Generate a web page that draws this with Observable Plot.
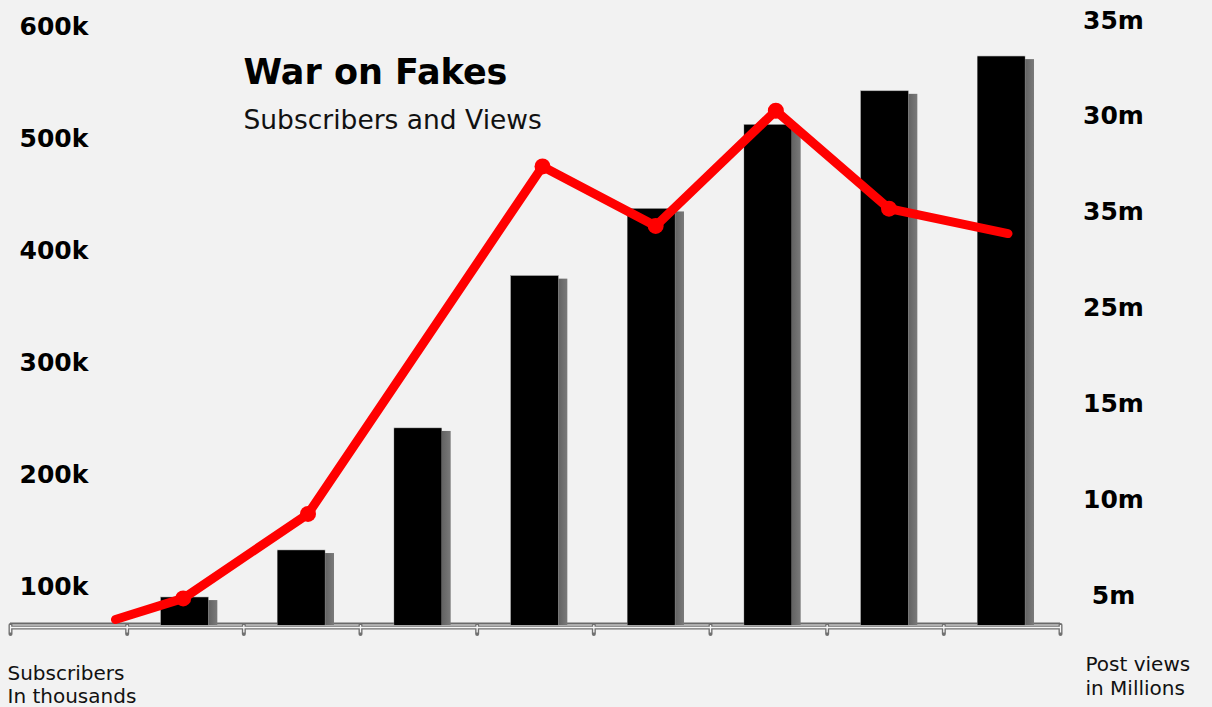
<!DOCTYPE html>
<html><head><meta charset="utf-8">
<script src="https://cdn.jsdelivr.net/npm/d3@7"></script>
<script src="https://cdn.jsdelivr.net/npm/@observablehq/plot@0.6"></script>
<style>
html,body{margin:0;padding:0;background:#f2f2f2;}
#wrap{width:1212px;height:707px;overflow:hidden;}
</style></head><body>
<div id="wrap"></div>
<script>
// Bars: subscribers (thousands), one per slot
const barSlots = [1, 2, 3, 4, 5, 6, 7, 8];
const subscribersK = [91, 133, 242, 378, 438, 513, 543, 574];
// Line: post views (millions)
const lineSlots = [0.9, 1.48, 2.55, 4.56, 5.53, 6.56, 7.53, 8.55];
const viewsM = [3.8, 4.9, 9.3, 27.4, 24.3, 30.3, 25.2, 23.9];
const markerIdx = [1, 2, 3, 4, 5, 6];
// Axis ticks / labels
const leftTicksK = [100, 200, 300, 400, 500, 600];
const leftLabels = ["100k", "200k", "300k", "400k", "500k", "600k"];
const rightTicksM = [5, 10, 15, 20, 25, 30, 35];
const rightLabels = ["5m", "10m", "15m", "25m", "35m", "30m", "35m"];
const slotTicks = [0, 1, 2, 3, 4, 5, 6, 7, 8, 9];

// Secondary axis (millions) expressed in primary units (thousands)
const toK = m => 6.25 + 17.143 * m;
const yBase = 66.07;

const bars = barSlots.map((s, i) => ({slot: s, k: subscribersK[i]}));
const pts = lineSlots.map((s, i) => ({slot: s, m: viewsM[i]}));
const markers = pts.filter((d, i) => markerIdx.includes(i));

const defs = () => {
  const ns = "http://www.w3.org/2000/svg";
  const d = document.createElementNS(ns, "defs");
  d.innerHTML = `<linearGradient id="shade" x1="0" x2="1" y1="0" y2="0">
    <stop offset="0" stop-color="#2a2a2a"/><stop offset="0.75" stop-color="#5a5a5a"/><stop offset="1" stop-color="#7a7a7a"/></linearGradient>`;
  return d;
};

const font = "DejaVu Sans";
const chart = Plot.plot({
  width: 1212, height: 707,
  marginLeft: 10, marginRight: 152, marginTop: 20, marginBottom: 82,
  style: {background: "#f2f2f2", fontFamily: font, overflow: "visible"},
  x: {domain: [0, 9], axis: null},
  y: {domain: [yBase, 606.25], axis: null, clamp: true},
  marks: [
    defs,
    Plot.ruleY([yBase], {stroke: "#6a6a6a", strokeWidth: 2, dy: -2}),
    Plot.rectY(bars, {x1: "slot", x2: d => d.slot + 1, y: "k", insetLeft: 34, insetRight: 35, insetTop: 3, dx: 9, fill: "url(#shade)"}),
    Plot.rectY(bars, {x1: "slot", x2: d => d.slot + 1, y: "k", insetLeft: 34, insetRight: 35, fill: "#000", stroke: "#9a9a9a", strokeWidth: 0.6}),
    Plot.rectY(bars, {x1: "slot", x2: d => d.slot + 1, y: "k", insetLeft: 34.4, insetRight: 35.4, insetTop: 0.6, fill: "#000"}),
    Plot.ruleY([yBase], {stroke: "#707070", strokeWidth: 4, dy: 2}),
    Plot.axisX({ticks: slotTicks, tickSize: 9, tickFormat: () => "", label: null, stroke: "#707070", strokeWidth: 4, strokeLinecap: "round"}),
    Plot.ruleY([yBase], {stroke: "#f6f6f6", strokeWidth: 1.3, dy: 2}),
    Plot.axisX({ticks: slotTicks, tickSize: 7.5, tickFormat: () => "", label: null, stroke: "#f6f6f6", strokeWidth: 1.3}),
    Plot.line(pts, {x: "slot", y: d => toK(d.m), stroke: "#ff0000", strokeWidth: 9, strokeLinejoin: "round"}),
    Plot.dot(markers, {x: "slot", y: d => toK(d.m), r: 8, fill: "#ff0000"}),
    Plot.text(leftTicksK, {y: d => d, text: (d, i) => leftLabels[i], frameAnchor: "left", dx: 9, textAnchor: "start", fontSize: 25, fontWeight: 700, fill: "#000"}),
    Plot.text(rightTicksM, {y: m => toK(m), text: (d, i) => rightLabels[i], frameAnchor: "right", dx: 53, textAnchor: "middle", fontSize: 25, fontWeight: 700, fill: "#000"}),
    Plot.text(["War on Fakes"], {frameAnchor: "top-left", dx: 233, dy: 63, lineAnchor: "bottom", textAnchor: "start", fontSize: 35, fontWeight: 700, fill: "#000"}),
    Plot.text(["Subscribers and Views"], {frameAnchor: "top-left", dx: 233, dy: 108, lineAnchor: "bottom", textAnchor: "start", fontSize: 26.5, fontWeight: 400, fill: "#111"}),
    Plot.text(["Subscribers"], {frameAnchor: "bottom-left", dx: -3, dy: 54, lineAnchor: "bottom", textAnchor: "start", fontSize: 20, fill: "#111"}),
    Plot.text(["In thousands"], {frameAnchor: "bottom-left", dx: -3, dy: 77, lineAnchor: "bottom", textAnchor: "start", fontSize: 20, fill: "#111"}),
    Plot.text(["Post views"], {frameAnchor: "bottom-right", dx: 25, dy: 45, lineAnchor: "bottom", textAnchor: "start", fontSize: 20, fill: "#111"}),
    Plot.text(["in Millions"], {frameAnchor: "bottom-right", dx: 25, dy: 69, lineAnchor: "bottom", textAnchor: "start", fontSize: 20, fill: "#111"})
  ]
});
document.getElementById("wrap").appendChild(chart);
</script>
</body></html>
